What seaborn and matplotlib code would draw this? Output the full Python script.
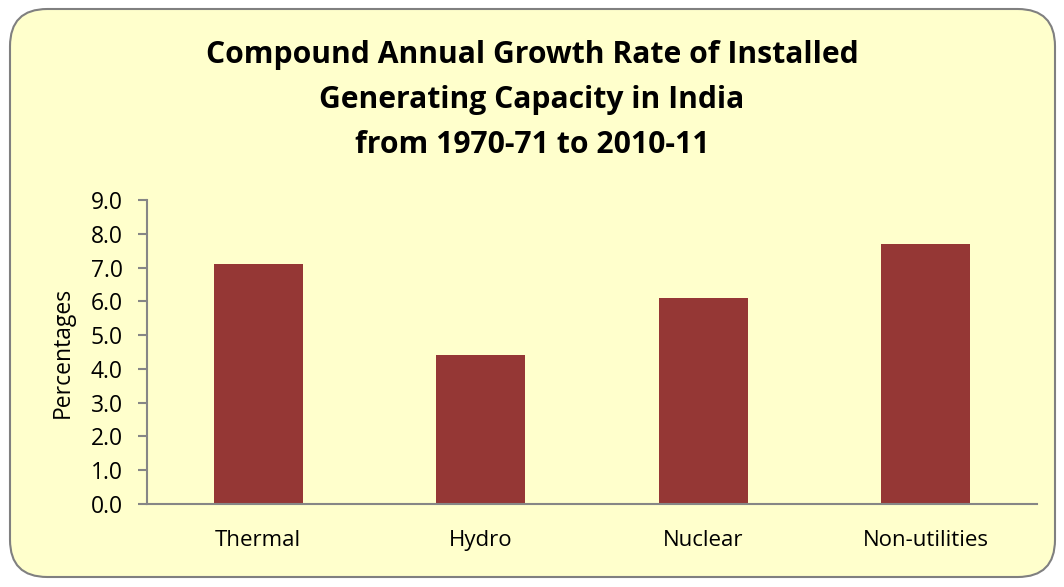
import matplotlib
matplotlib.use('Agg')
import matplotlib.pyplot as plt
import seaborn as sns
import pandas as pd
import numpy as np
from matplotlib.patches import FancyBboxPatch

# Dados
categorias = ['Thermal', 'Hydro', 'Nuclear', 'Non-utilities']
valores = [7.1, 4.4, 6.1, 7.7]
yticks = [0.0, 1.0, 2.0, 3.0, 4.0, 5.0, 6.0, 7.0, 8.0, 9.0]

df = pd.DataFrame({'Categoria': categorias, 'Valor': valores})

sns.set_style('white')
plt.rcParams['font.family'] = ['Open Sans', 'DejaVu Sans']

fundo = '#FFFFCC'
cinza = '#868686'
cor_barra = '#953735'

fig = plt.figure(figsize=(10.64, 5.87), dpi=100)
fig.patch.set_facecolor('white')

# Caixa arredondada de fundo
caixa = FancyBboxPatch((10 / 1064, 10 / 587), 1045 / 1064, 568 / 587,
                       boxstyle='round,pad=0,rounding_size=0.035',
                       transform=fig.transFigure, facecolor=fundo,
                       edgecolor='#808080', linewidth=1.5,
                       mutation_aspect=1064 / 587, zorder=-10)
fig.patches.append(caixa)

ax = fig.add_axes([147 / 1064, (587 - 504) / 587, (1037 - 147) / 1064, (504 - 200) / 587])
ax.set_facecolor('none')

sns.barplot(data=df, x='Categoria', y='Valor', color=cor_barra, width=0.4,
            saturation=1, linewidth=0, ax=ax)

ax.set_xlim(-0.5, 3.5)
ax.set_ylim(0, 9)
ax.set_yticks(yticks)
ax.set_yticklabels([f'{v:.1f}' for v in yticks], fontsize=16.5, color='black')
ax.set_xticks(range(len(categorias)))
ax.set_xticklabels(categorias, fontsize=16, color='black')
ax.set_xticks(np.arange(-0.5, 4, 1), minor=True)
ax.tick_params(axis='x', which='major', length=0, pad=19)
ax.tick_params(axis='x', which='minor', length=6.5, color=cinza, width=1.5)
ax.tick_params(axis='y', length=6.5, color=cinza, width=1.5, direction='out',
               left=True, pad=11)

ax.set_xlabel('')
ax.set_ylabel('Percentages', fontsize=16.5, color='black')
ax.yaxis.set_label_coords(-72 / 890, 0.5)

for s in ['top', 'right']:
    ax.spines[s].set_visible(False)
for s in ['left', 'bottom']:
    ax.spines[s].set_color(cinza)
    ax.spines[s].set_linewidth(1.5)

fig.text(0.5, 1 - 100 / 587,
         'Compound Annual Growth Rate of Installed\nGenerating Capacity in India\nfrom 1970-71 to 2010-11',
         ha='center', va='center', fontsize=21.7, fontweight='bold', linespacing=1.65,
         color='black')

plt.savefig('out.png', dpi=100, facecolor='white')
